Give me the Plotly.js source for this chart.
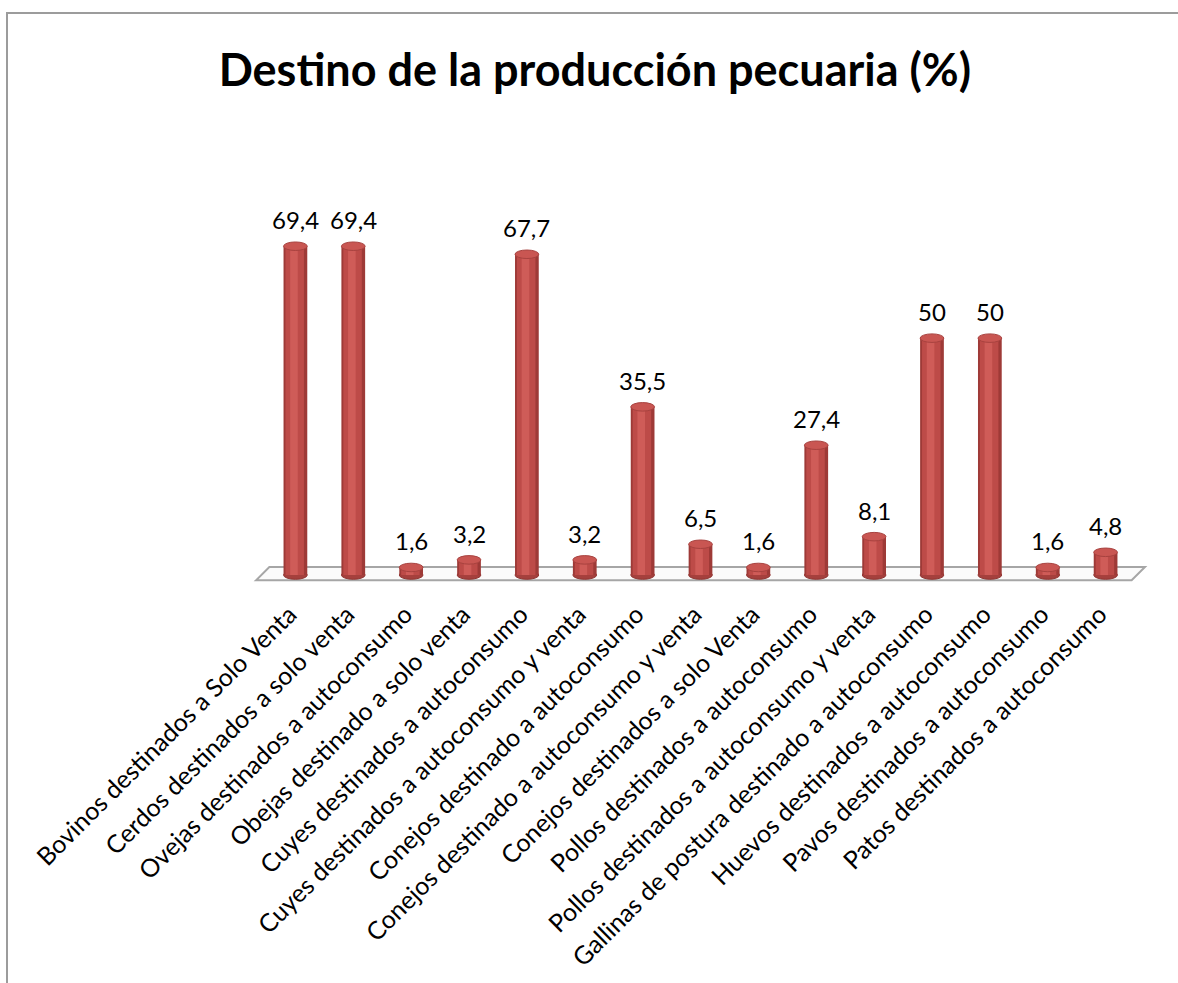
<!DOCTYPE html>
<html>
<head>
<meta charset="utf-8">
<script src="https://cdn.plot.ly/plotly-3.0.1.min.js"></script>
<style>
  html, body { margin: 0; padding: 0; background: #fff; }
  #wrap { position: relative; width: 1178px; height: 983px; }
  #chart { width: 1178px; height: 983px; }
  #frame { position: absolute; left: 6px; top: 12px; width: 1172px; height: 971px;
           border-left: 2px solid #9c9c9c; border-top: 2px solid #9c9c9c; pointer-events: none; }
</style>
</head>
<body>
<div id="wrap">
  <div id="chart"></div>
  <div id="frame"></div>
</div>
<script>
const categories = [
  "Bovinos destinados a Solo Venta",
  "Cerdos destinados a solo venta",
  "Ovejas destinados a autoconsumo",
  "Obejas destinado a solo venta",
  "Cuyes destinados a autoconsumo",
  "Cuyes destinados a autoconsumo y venta",
  "Conejos destinado a autoconsumo",
  "Conejos destinado a autoconsumo y venta",
  "Conejos destinados a solo Venta",
  "Pollos destinados a autoconsumo",
  "Pollos destinados a autoconsumo y venta",
  "Gallinas de postura destinado a autoconsumo",
  "Huevos destinados a autoconsumo",
  "Pavos destinados a autoconsumo",
  "Patos destinados a autoconsumo"
];
const values = [69.4, 69.4, 1.6, 3.2, 67.7, 3.2, 35.5, 6.5, 1.6, 27.4, 8.1, 50, 50, 1.6, 4.8];
const valueLabels = values.map(v => String(v).replace('.', ','));

const FONT = "Lato, 'Open Sans', sans-serif";
const W = 0.41;      // cylinder width (category units)
const EH = 0.9;      // half height of cylinder cap ellipse (y units)
const idx = categories.map((_, i) => i);

const traces = [
  { type: 'bar', x: idx, y: values, width: W, marker: { color: '#9E3A37', line: { width: 0 } }, hoverinfo: 'skip' },
  { type: 'bar', x: idx, y: values, width: W * 0.78, offset: -W * 0.42, marker: { color: '#BD4B48', line: { width: 0 } }, hoverinfo: 'skip' },
  { type: 'bar', x: idx, y: values, width: W * 0.32, offset: -W * 0.22, marker: { color: '#CF5C58', line: { width: 0 } }, hoverinfo: 'skip' }
];

const shapes = [];
// floor
shapes.push({
  type: 'path', xref: 'x', yref: 'y', layer: 'below',
  path: 'M -0.68 -1.1 L 14.45 -1.1 L 14.68 1.7 L -0.45 1.7 Z',
  fillcolor: '#fbfbfb', line: { color: '#a6a6a6', width: 2 }
});
values.forEach((v, i) => {
  shapes.push({
    type: 'circle', xref: 'x', yref: 'y', layer: 'below',
    x0: i - W / 2, x1: i + W / 2, y0: -EH, y1: EH,
    fillcolor: '#A5403D', line: { color: '#8E3532', width: 1 }
  });
  shapes.push({
    type: 'circle', xref: 'x', yref: 'y', layer: 'above',
    x0: i - W / 2, x1: i + W / 2, y0: v - EH, y1: v + EH,
    fillcolor: '#C95652', line: { color: '#A8423F', width: 1 }
  });
});

const annotations = values.map((v, i) => ({
  x: i, y: v, xref: 'x', yref: 'y', text: valueLabels[i],
  showarrow: false, yanchor: 'bottom', xanchor: 'center', yshift: 10,
  font: { family: FONT, size: 24, color: '#000' }
}));

const layout = {
  width: 1178, height: 983,
  paper_bgcolor: '#ffffff', plot_bgcolor: 'rgba(0,0,0,0)',
  margin: { l: 252, r: 29, t: 196, b: 389 },
  showlegend: false,
  barmode: 'overlay',
  title: {
    text: '<b>Destino de la producción pecuaria (%)</b>',
    x: 0.505, xanchor: 'center', y: 0.929, yanchor: 'middle',
    font: { family: FONT, size: 45, color: '#000' }
  },
  xaxis: {
    type: 'linear', range: [-0.75, 14.75],
    tickmode: 'array', tickvals: idx, ticktext: categories,
    tickangle: -45, ticks: '', showgrid: false, zeroline: false, showline: false,
    tickfont: { family: FONT, size: 25, color: '#000' },
    ticklabelstandoff: 0, ticklabelshift: -6
  },
  yaxis: {
    range: [-4, 80], visible: false, showgrid: false, zeroline: false, fixedrange: true
  },
  shapes: shapes,
  annotations: annotations
};

Plotly.newPlot('chart', traces, layout, { displayModeBar: false, staticPlot: true });
</script>
</body>
</html>
